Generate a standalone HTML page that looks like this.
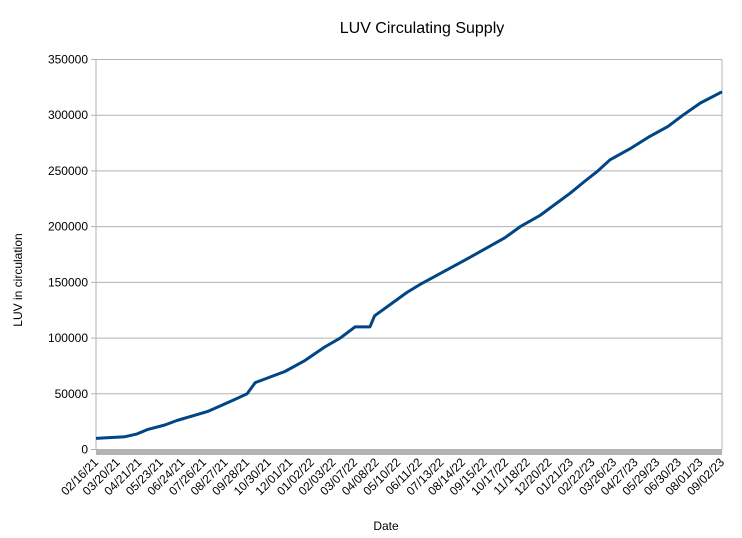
<!DOCTYPE html>
<html><head><meta charset="utf-8"><style>body{margin:0;background:#fff}svg{display:block;font-family:"Liberation Sans",sans-serif}</style></head>
<body>
<svg id="c" width="742" height="538"></svg>
<script>
const categories=["02/16/21","03/20/21","04/21/21","05/23/21","06/24/21","07/26/21","08/27/21","09/28/21","10/30/21","12/01/21","01/02/22","02/03/22","03/07/22","04/08/22","05/10/22","06/11/22","07/13/22","08/14/22","09/15/22","10/17/22","11/18/22","12/20/22","01/21/23","02/22/23","03/26/23","04/27/23","05/29/23","06/30/23","08/01/23","09/02/23"];
const dayOffsets=[0,43,61,77,102,120,165,184,206,224,236,280,310,339,362,384,406,413,436,461,480,547,606,629,658,703,725,744,762,792,821,848,870,896,928];
const supply=[10000,11500,14000,18000,22000,26000,34000,39000,45000,50000,60000,70000,80000,92000,100000,110000,110000,120000,130000,141000,148000,170000,190000,200000,210000,230000,241000,250000,260000,270000,281000,290000,300000,311000,321000];
const yTicks=[0,50000,100000,150000,200000,250000,300000,350000];
const NS="http://www.w3.org/2000/svg",svg=document.getElementById("c");
const X0=96,X1=722,Y0=449.5,Y1=59.5,maxDay=928,maxY=350000;
const xs=d=>X0+d/maxDay*(X1-X0), ys=v=>Y0-v/maxY*(Y0-Y1);
function mk(t,a,txt){const e=document.createElementNS(NS,t);for(const k in a)e.setAttribute(k,a[k]);if(txt!=null)e.textContent=txt;svg.appendChild(e);return e;}
let e=mk("text",{x:422,y:33,"text-anchor":"middle","font-size":16,fill:"#000"},"LUV Circulating Supply");

yTicks.forEach(v=>{const y=ys(v);
 let g=mk("line",{x1:X0-5,x2:X1,y1:y,y2:y,stroke:"#b3b3b3","stroke-width":1});
 
 let t=mk("text",{x:88,y:y+4,"text-anchor":"end","font-size":12,fill:"#000"},String(v));
 });
e=mk("line",{x1:X0,x2:X0,y1:Y1,y2:Y0,stroke:"#b3b3b3"});
e=mk("line",{x1:X1,x2:X1,y1:Y1,y2:Y0,stroke:"#b3b3b3"});
e=mk("rect",{x:X0,y:449,width:X1-X0,height:6,fill:"#b3b3b3"});
const n=categories.length;
categories.forEach((c,i)=>{const x=X0+i*(X1-X0)/(n-1);
 let t=mk("text",{x:x+3,y:463,"text-anchor":"end","font-size":12,fill:"#000",transform:`rotate(-45 ${x+3} 463)`},c);
 });
const pts=dayOffsets.map((d,i)=>xs(d).toFixed(1)+","+ys(supply[i]).toFixed(1)).join(" ");
e=mk("polyline",{points:pts,fill:"none",stroke:"#004586","stroke-width":3,"stroke-linejoin":"round"});

e=mk("text",{x:386,y:530,"text-anchor":"middle","font-size":12,fill:"#000"},"Date");

e=mk("text",{x:22,y:280,"text-anchor":"middle","font-size":12,fill:"#000",transform:"rotate(-90 22 280)"},"LUV in circulation");

</script>
</body></html>
